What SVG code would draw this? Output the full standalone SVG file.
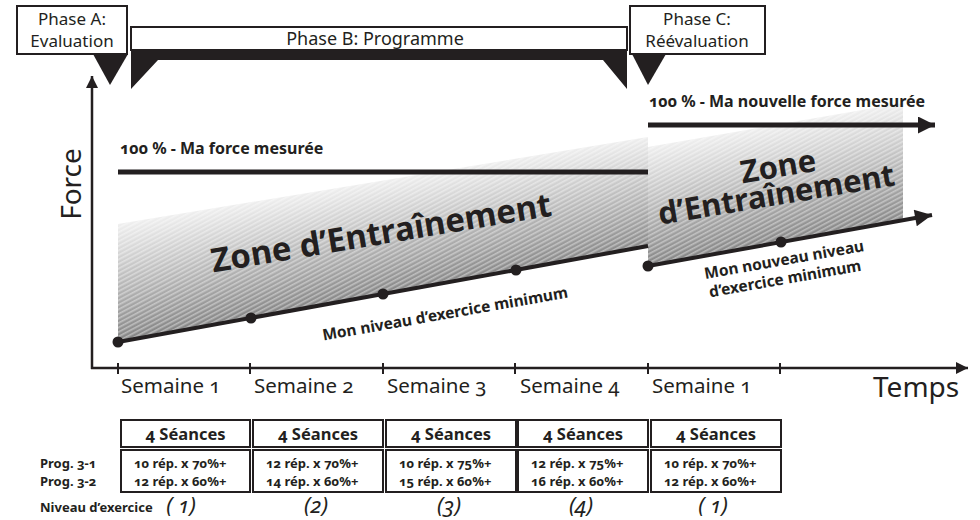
<svg xmlns="http://www.w3.org/2000/svg" width="980" height="520" viewBox="0 0 980 520">
<style>
  text { font-family: "Noto Sans", "Open Sans", sans-serif; fill: #231f20; font-variant-numeric: oldstyle-nums; }
  .box { fill: #fff; stroke: #231f20; stroke-width: 2; }
  .blk { fill: #231f20; }
  .ph { font-size: 17px; text-anchor: middle; }
  .phb { font-size: 18px; text-anchor: middle; }
  .axis { stroke: #231f20; stroke-width: 2.5; fill: none; }
  .tick { stroke: #231f20; stroke-width: 2; }
  .thick { stroke: #231f20; stroke-width: 5; fill: none; }
  .lvl { stroke: #231f20; stroke-width: 4; fill: none; }
  .dot { fill: #231f20; }
  .sem { font-size: 20.5px; }
  .big { font-size: 28px; }
  .zone { font-size: 33px; font-weight: 700; text-anchor: middle; }
  .zone2 { font-size: 31px; font-weight: 700; text-anchor: middle; }
  .lbl { font-size: 16px; font-weight: 700; }
  .lbl2 { font-size: 15.5px; font-weight: 700; text-anchor: middle; }
  .cell { fill: #fff; stroke: #231f20; stroke-width: 2; }
  .sea { font-size: 16.5px; font-weight: 700; text-anchor: middle; }
  .rep { font-size: 13px; font-weight: 700; }
  .niv { font-family: "Noto Sans", "DejaVu Sans", sans-serif; font-size: 22px; font-style: italic; font-weight: 400; text-anchor: middle; }
</style>
<defs>
  <linearGradient id="g1" gradientUnits="userSpaceOnUse" x1="383" y1="180" x2="402" y2="294">
    <stop offset="0" stop-color="#efefef"/>
    <stop offset="1" stop-color="#858585"/>
  </linearGradient>
  <linearGradient id="g2" gradientUnits="userSpaceOnUse" x1="775" y1="125" x2="795" y2="243">
    <stop offset="0" stop-color="#efefef"/>
    <stop offset="1" stop-color="#858585"/>
  </linearGradient>
  <pattern id="hatch" width="4" height="4" patternUnits="userSpaceOnUse" patternTransform="rotate(-28)">
    <rect x="0" y="0" width="4" height="1.6" fill="#ffffff" opacity="0.4"/>
  </pattern>
  <marker id="ah" viewBox="0 0 10 10" refX="10" refY="5" markerWidth="24" markerHeight="17" markerUnits="userSpaceOnUse" orient="auto">
    <path d="M0,0 L10,5 L0,10 Z" fill="#231f20"/>
  </marker>
  <marker id="ahs" viewBox="0 0 10 10" refX="10" refY="5" markerWidth="14" markerHeight="12" markerUnits="userSpaceOnUse" orient="auto">
    <path d="M0,0 L10,5 L0,10 Z" fill="#231f20"/>
  </marker>
</defs>

<g id="zones">
  <polygon id="zone1" points="118,224 648,137 648,246 118,342" fill="url(#g1)"/>
  <polygon points="118,224 648,137 648,246 118,342" fill="url(#hatch)"/>
  <polygon id="zone2" points="648,147 903,103 903,220 648,266" fill="url(#g2)"/>
  <polygon points="648,147 903,103 903,220 648,266" fill="url(#hatch)"/>
</g>

<g id="phaseA">
  <rect class="box" x="17" y="6" width="110" height="48"/>
  <text class="ph" x="72" y="25">Phase A:</text>
  <text class="ph" x="72" y="47">Evaluation</text>
  <polygon class="blk" points="93,54 128,54 110,85"/>
</g>
<g id="phaseB">
  <rect class="box" x="131" y="27" width="496" height="23"/>
  <text class="phb" x="375" y="45">Phase B: Programme</text>
  <polygon class="blk" points="131,50 627,50 627,89 603,60 158,60 131,89"/>
</g>
<g id="phaseC">
  <rect class="box" x="630" y="6" width="135" height="48"/>
  <text class="ph" x="697" y="25">Phase C:</text>
  <text class="ph" x="697" y="47">Réévaluation</text>
  <polygon class="blk" points="632,54 666,54 648,85"/>
</g>

<g id="connectors">
  <line class="axis" x1="92" y1="369" x2="92" y2="76" marker-end="url(#ahs)"/>
  <line class="axis" x1="91" y1="368" x2="968" y2="368" marker-end="url(#ahs)"/>
  <line class="tick" x1="118" y1="363" x2="118" y2="374"/>
  <line class="tick" x1="250" y1="363" x2="250" y2="374"/>
  <line class="tick" x1="383" y1="363" x2="383" y2="374"/>
  <line class="tick" x1="515" y1="363" x2="515" y2="374"/>
  <line class="tick" x1="648" y1="363" x2="648" y2="374"/>
  <line class="tick" x1="780" y1="363" x2="780" y2="374"/>
  <line class="thick" x1="118" y1="172" x2="648" y2="172"/>
  <line class="thick" x1="648" y1="125" x2="935" y2="125" marker-end="url(#ah)"/>
  <line class="lvl" x1="118" y1="342" x2="648" y2="246"/>
  <line class="lvl" x1="648" y1="266" x2="932" y2="215" marker-end="url(#ah)"/>
</g>

<g id="points">
  <circle class="dot" cx="118" cy="342" r="5.5"/>
  <circle class="dot" cx="251" cy="318" r="5.5"/>
  <circle class="dot" cx="383" cy="294" r="5.5"/>
  <circle class="dot" cx="516" cy="270" r="5.5"/>
  <circle class="dot" cx="648" cy="266" r="5.5"/>
  <circle class="dot" cx="781" cy="242" r="5.5"/>
</g>

<g id="labels">
  <text class="big" transform="translate(81,184) rotate(-90)" text-anchor="middle">Force</text>
  <text class="big" x="873" y="397">Temps</text>
  <text class="lbl" x="120" y="154">100 % - Ma force mesurée</text>
  <text class="lbl" x="649" y="107">100 % - Ma nouvelle force mesurée</text>
  <text class="zone" transform="translate(383,244) rotate(-9.5)">Zone d’Entraînement</text>
  <text class="zone2" transform="translate(780,177) rotate(-9.5)">Zone</text>
  <text class="zone2" transform="translate(778,205) rotate(-9.5)">d’Entraînement</text>
  <text class="lbl2" transform="translate(446,319) rotate(-10)">Mon niveau d’exercice minimum</text>
  <text class="lbl2" transform="translate(785,265) rotate(-10)">Mon nouveau niveau</text>
  <text class="lbl2" transform="translate(786,284) rotate(-10)">d’exercice minimum</text>
  <text class="sem" x="121" y="393">Semaine 1</text>
  <text class="sem" x="254" y="393">Semaine 2</text>
  <text class="sem" x="387" y="393">Semaine 3</text>
  <text class="sem" x="520" y="393">Semaine 4</text>
  <text class="sem" x="652" y="393">Semaine 1</text>
</g>

<g id="table">
  <g id="col1">
    <rect class="cell" x="121" y="420" width="129" height="27"/>
    <rect class="cell" x="121" y="450" width="129" height="42"/>
    <text class="sea" x="185.5" y="440">4 Séances</text>
    <text class="rep" x="134" y="468">10 rép. x 70%+</text>
    <text class="rep" x="134" y="486">12 rép. x 60%+</text>
    <text class="niv" x="181" y="513">( 1)</text>
  </g>
  <g id="col2">
    <rect class="cell" x="253" y="420" width="130" height="27"/>
    <rect class="cell" x="253" y="450" width="130" height="42"/>
    <text class="sea" x="318" y="440">4 Séances</text>
    <text class="rep" x="266" y="468">12 rép. x 70%+</text>
    <text class="rep" x="266" y="486">14 rép. x 60%+</text>
    <text class="niv" x="316" y="513">(2)</text>
  </g>
  <g id="col3">
    <rect class="cell" x="386" y="420" width="130" height="27"/>
    <rect class="cell" x="386" y="450" width="130" height="42"/>
    <text class="sea" x="451" y="440">4 Séances</text>
    <text class="rep" x="399" y="468">10 rép. x 75%+</text>
    <text class="rep" x="399" y="486">15 rép. x 60%+</text>
    <text class="niv" x="449" y="513">(3)</text>
  </g>
  <g id="col4">
    <rect class="cell" x="518" y="420" width="130" height="27"/>
    <rect class="cell" x="518" y="450" width="130" height="42"/>
    <text class="sea" x="583" y="440">4 Séances</text>
    <text class="rep" x="531" y="468">12 rép. x 75%+</text>
    <text class="rep" x="531" y="486">16 rép. x 60%+</text>
    <text class="niv" x="581" y="513">(4)</text>
  </g>
  <g id="col5">
    <rect class="cell" x="651" y="420" width="130" height="27"/>
    <rect class="cell" x="651" y="450" width="130" height="42"/>
    <text class="sea" x="716" y="440">4 Séances</text>
    <text class="rep" x="664" y="468">10 rép. x 70%+</text>
    <text class="rep" x="664" y="486">12 rép. x 60%+</text>
    <text class="niv" x="713" y="513">( 1)</text>
  </g>
  <text class="rep" x="40" y="468">Prog. 3-1</text>
  <text class="rep" x="40" y="486">Prog. 3-2</text>
  <text class="rep" x="40" y="512">Niveau d’exercice</text>
</g>
</svg>
